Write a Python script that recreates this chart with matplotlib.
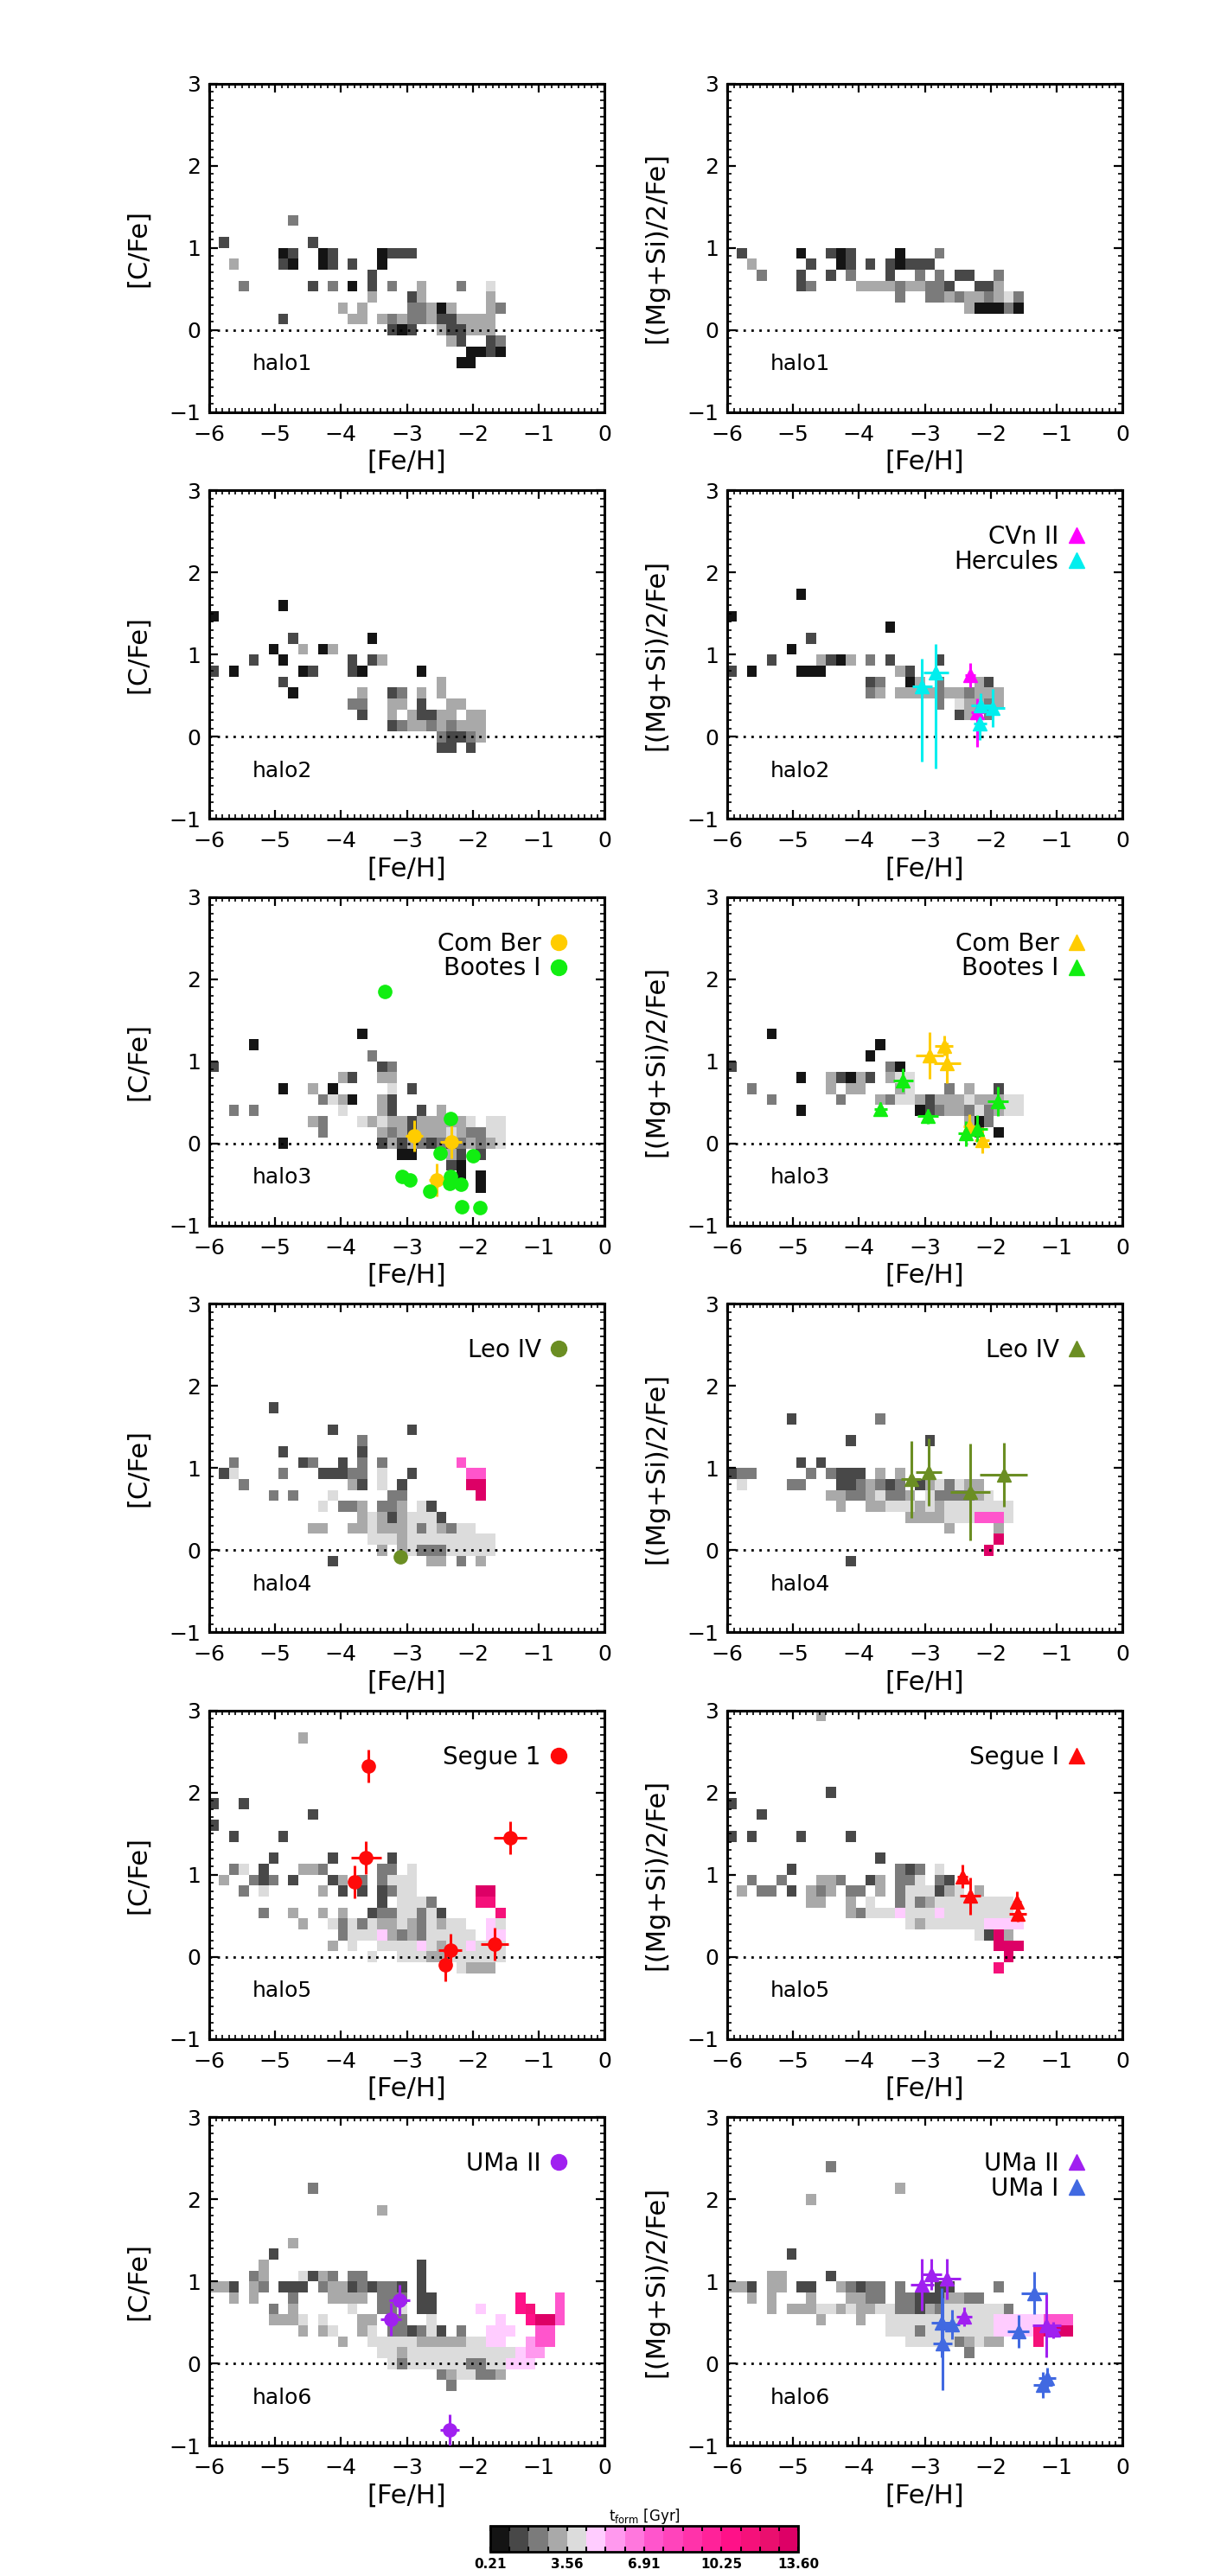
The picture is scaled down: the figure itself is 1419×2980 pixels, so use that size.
import numpy as np
import matplotlib
matplotlib.use("Agg")
import matplotlib.pyplot as plt
from matplotlib.colors import ListedColormap, BoundaryNorm
from matplotlib.lines import Line2D
from matplotlib.ticker import MultipleLocator
import matplotlib.cm as cm

plt.rcParams['font.family'] = ['DejaVu Sans']

# ---------------------------------------------------------------- grid / colour scale
FEH_EDGES = np.linspace(-6.0, 0.0, 41)      # 0.15 dex bins in [Fe/H]
RATIO_EDGES = np.linspace(-1.0, 3.0, 31)    # 0.133 dex bins in [X/Fe]
TFORM_EDGES = np.linspace(0.21, 13.60, 17)  # 16 t_form classes
TFORM_TICKS = [0.21, 3.56, 6.91, 10.25, 13.60]
LEVEL_COLORS = ['#141414', '#484848', '#7b7b7b', '#a9a9a9', '#dcdcdc', '#ffccff',
                '#ff99ee', '#ff77dd', '#ff55cc', '#ff44bb', '#ff33aa', '#ff2299',
                '#ff1188', '#f5117a', '#ea0f6e', '#dd0066']
CODES = '0123456789abcdef'

# Binned maps: row k (bin centre = k*4/30) -> (first [Fe/H] bin, t_form class per bin)
halo1_cfe = {10: (8, "2"), 8: (1, "1........1"), 7: (7, "01..01....0111"),
             6: (2, "3....10..01.1..0"), 5: (16, "1"),
             4: (3, "2......1.2.0.1.2..3...2..4"), 3: (16, "3...13......3"),
             2: (13, "3.3....22303...32"), 1: (7, "1......33.323223113333"),
             0: (18, "101..311333"), -1: (24, "31..12"), -2: (26, "0010"), -3: (25, "00")}
halo1_mgsi = {7: (1, "1.....0..101....0...2"), 6: (2, "3.....1..01.1.10111"),
              5: (3, "2...1..1.2...1..2.2.11..2"), 4: (7, "12....3333233221..113"),
              3: (17, "2..2232332342"), 2: (24, "300020")}
halo2_cfe = {12: (7, "0"), 11: (0, "0"), 9: (8, "1.......0"), 8: (6, "0..3.03"),
             7: (4, "1..0......1.13"), 6: (0, "1.0......01...10.....0"),
             5: (7, "1...............3"), 4: (8, "0......3..12.3.3"),
             3: (14, "22..33.1..33"), 2: (15, "1..3.31133.33"), 1: (18, "1233232333"),
             0: (23, "21123"), -1: (23, "11.1")}
halo2_mgsi = {13: (7, "0"), 11: (0, "0"), 10: (16, "0"), 9: (8, "1"), 8: (6, "0"),
              7: (4, "1....3103.2.1....1"), 6: (0, "1.0....000.......31"),
              5: (14, "12..03.2...31"), 4: (14, "23.33332332333"),
              3: (21, "2.43323"), 2: (23, "13.2")}
halo3_cfe = {10: (15, "0"), 9: (4, "0"), 8: (16, "2"), 7: (0, "1................12"),
             6: (13, "31..33"), 5: (7, "0..3.0.....4.1"), 4: (11, "2430..31"),
             3: (2, "2.2........4...31..1.3"), 2: (10, "32...434331333334.44"),
             1: (11, "2.....3231333432244"), 0: (7, "0.........1313212123234"),
             -1: (19, "00...31.1"), -2: (24, "10"), -3: (25, "0.0"), -4: (27, "0")}
halo3_mgsi = {10: (4, "0"), 9: (15, "0"), 8: (14, "0"), 7: (0, "1...............20"),
              6: (7, "0..31031.344"), 5: (2, "2.......3.33...34...2.3..1"),
              4: (4, "2......2...324431333433344"), 3: (7, "0...........01233242344"),
              2: (24, "302"), 1: (25, "1.0")}
halo4_cfe = {13: (6, "1"), 11: (12, "1.......1"), 10: (15, "2"), 9: (7, "1.......1"),
             8: (2, "2......12..1.2.2.......8"), 7: (1, "14....2...11122.4..1.....88"),
             6: (3, "2..........31.4.1......ff"), 5: (6, "2.2...4.....22.......f"),
             4: (11, "4.223.223.41"), 3: (15, "343134441"), 2: (10, "33..3343334243244"),
             1: (16, "4443444444444"), 0: (17, "3.3422244444"), -1: (12, "1.........33.2.3")}
halo4_mgsi = {12: (6, "1........2"), 10: (12, "1.......1"), 8: (7, "1.1"),
              7: (0, "122.....2.2111.3.3"), 6: (1, "4....22...1123212.1342433"),
              5: (10, "332234223.4222234"), 4: (11, "3..334443434444444"),
              3: (18, "33334448884"), 2: (22, "3....3"), 1: (27, "f"), 0: (26, "f"),
              -1: (12, "1")}
halo5_cfe = {20: (9, "3"), 14: (0, "1..1"), 13: (10, "1"), 12: (0, "1"), 11: (2, "1....1"),
             9: (6, "1.....1.....1"), 8: (2, "24.1...332.....22.4"),
             7: (1, "3..212.1...13.2.2444"), 6: (3, "2.4.....3.1.1.1244......ff"),
             5: (17, "1.4442....dd"), 4: (5, "2..3..3.3..12244241.....d"),
             3: (9, "3..42424334324344..54"), 2: (13, "24445323244444.55"),
             1: (12, "3.4..4444543445444"), 0: (16, "4..44433444444"), -1: (25, "4333")}
halo5_mgsi = {22: (9, "3"), 15: (10, "1"), 14: (0, "1"), 13: (3, "1"), 11: (0, "1.1....1....1"),
              9: (15, "1"), 8: (6, "1..........212.4"), 7: (2, "2..2...332..13.224.21"),
              6: (1, "3.22.1.323.22.3.2444134.3"), 5: (8, "33..3.4..242344444444"),
              4: (12, "32444544454444444"), 3: (18, "434444445555"), 2: (25, "41f3"),
              1: (27, "fff"), 0: (28, "f"), -1: (27, "d")}
halo6_cfe = {16: (10, "2"), 14: (17, "3"), 11: (8, "3"), 10: (6, "1"),
             9: (5, "3...............1"), 8: (4, "23...4132.22.....1"),
             7: (0, "331.32.111.233121221.1"), 6: (2, "3.3...2...3333.222.11........c...8"),
             5: (6, "2.3.....4..224.11....5...cd..8"), 4: (6, "3334.4...33.22..4......5..cff8"),
             3: (9, "3.34..34.221241.2..555..88"), 2: (13, "3..44444333334455..688"),
             1: (17, "44344444444444566"), 0: (18, "424444442244555"),
             -1: (23, "2344223"), -2: (24, "2")}
halo6_mgsi = {18: (10, "2"), 16: (17, "3"), 15: (8, "3"), 10: (6, "1"), 8: (4, "33....1"),
              7: (0, "331.33.11..32122.2...11....2"), 6: (2, "3.3...3...3322.221113322"),
              5: (4, "3.33344343344221324444442"), 4: (9, "3...3..4444444444455555888"),
              3: (16, "444244444445555dfff"), 2: (18, "4444423433...d"), 1: (24, "2")}

# ---------------------------------------------------------------- observed dwarf stars
cvn2_mgsi = dict(feh=[-2.31, -2.20], val=[0.75, 0.30], xerr=[0.08, 0.10],
                 yerr=[[0.15, 0.42], [0.15, 0.16]])
herc_mgsi = dict(feh=[-3.04, -2.83, -2.16, -1.97, -2.15], val=[0.61, 0.78, 0.16, 0.35, 0.38],
                 xerr=[0.15, 0.19, 0.10, 0.18, 0.15],
                 yerr=[[0.91, 1.17, 0.20, 0.23, 0.15], [0.34, 0.35, 0.20, 0.23, 0.15]])
comber_cfe = dict(feh=[-2.89, -2.33, -2.55], val=[0.09, 0.02, -0.44],
                  xerr=[0.13, 0.16, 0.12], yerr=[0.19, 0.20, 0.20])
bootes_cfe = dict(feh=[-3.34, -2.34, -2.50, -2.00, -3.07, -2.95, -2.34, -2.35, -2.18, -2.65, -2.17, -1.89],
                  val=[1.85, 0.30, -0.12, -0.15, -0.40, -0.44, -0.40, -0.49, -0.50, -0.58, -0.77, -0.78])
comber_mgsi = dict(feh=[-2.93, -2.71, -2.66, -2.32, -2.13], val=[1.07, 1.19, 0.98, 0.21, 0.04],
                   xerr=[0.21, 0.14, 0.20, 0.10, 0.11], yerr=[0.28, 0.12, 0.25, 0.15, 0.16])
bootes_mgsi = dict(feh=[-3.33, -3.67, -2.95, -1.89, -2.37, -2.20], val=[0.77, 0.42, 0.33, 0.51, 0.12, 0.18],
                   xerr=[0.15, 0.10, 0.16, 0.16, 0.12, 0.15], yerr=[0.14, 0.08, 0.09, 0.18, 0.15, 0.16])
leo4_cfe = dict(feh=[-3.10], val=[-0.08])
leo4_mgsi = dict(feh=[-3.21, -2.94, -2.31, -1.80], val=[0.86, 0.95, 0.71, 0.92],
                 xerr=[0.15, 0.20, 0.30, 0.36], yerr=[0.47, 0.41, 0.59, 0.39])
segue1_cfe = dict(feh=[-3.58, -3.62, -3.80, -1.43, -1.67, -2.34, -2.42],
                  val=[2.32, 1.21, 0.91, 1.45, 0.16, 0.08, -0.10],
                  xerr=[0.03, 0.23, 0.03, 0.25, 0.21, 0.18, 0.03], yerr=[0.20] * 7)
segue1_mgsi = dict(feh=[-2.43, -2.31, -1.60, -1.59], val=[0.98, 0.74, 0.67, 0.52],
                   xerr=[0.08, 0.16, 0.06, 0.13], yerr=[0.14, 0.23, 0.13, 0.09])
uma2_cfe = dict(feh=[-3.11, -3.24, -2.35], val=[0.77, 0.54, -0.81],
                xerr=[0.16, 0.16, 0.15], yerr=[0.19, 0.20, 0.19])
uma2_mgsi = dict(feh=[-3.04, -2.90, -2.66, -2.40, -1.15, -1.05], val=[0.96, 1.09, 1.03, 0.57, 0.47, 0.41],
                 xerr=[0.18, 0.15, 0.21, 0.12, 0.22, 0.11], yerr=[0.32, 0.19, 0.25, 0.12, 0.39, 0.10])
uma1_mgsi = dict(feh=[-2.75, -2.73, -2.58, -1.34, -1.58, -1.21, -1.14],
                 val=[0.50, 0.24, 0.48, 0.86, 0.39, -0.26, -0.18],
                 xerr=[0.15, 0.14, 0.11, 0.20, 0.16, 0.14, 0.13],
                 yerr=[0.42, 0.56, 0.18, 0.26, 0.20, 0.16, 0.13])

COL = dict(comber='#ffcc00', bootes='#11ee11', cvn='#ff00ff', herc='#00eeee',
           leo='#6b8e23', segue='#ff0a0a', uma2='#a020f0', uma1='#4169e1')

HALOS = ['halo1', 'halo2', 'halo3', 'halo4', 'halo5', 'halo6']
MAPS_CFE = [halo1_cfe, halo2_cfe, halo3_cfe, halo4_cfe, halo5_cfe, halo6_cfe]
MAPS_MGSI = [halo1_mgsi, halo2_mgsi, halo3_mgsi, halo4_mgsi, halo5_mgsi, halo6_mgsi]
OBS_CFE = [[], [],
           [('Com Ber', comber_cfe, 'o', COL['comber']), ('Bootes I', bootes_cfe, 'o', COL['bootes'])],
           [('Leo IV', leo4_cfe, 'o', COL['leo'])],
           [('Segue 1', segue1_cfe, 'o', COL['segue'])],
           [('UMa II', uma2_cfe, 'o', COL['uma2'])]]
OBS_MGSI = [[],
            [('CVn II', cvn2_mgsi, '^', COL['cvn']), ('Hercules', herc_mgsi, '^', COL['herc'])],
            [('Com Ber', comber_mgsi, '^', COL['comber']), ('Bootes I', bootes_mgsi, '^', COL['bootes'])],
            [('Leo IV', leo4_mgsi, '^', COL['leo'])],
            [('Segue I', segue1_mgsi, '^', COL['segue'])],
            [('UMa II', uma2_mgsi, '^', COL['uma2']), ('UMa I', uma1_mgsi, '^', COL['uma1'])]]

CMAP = ListedColormap(LEVEL_COLORS)
NORM = BoundaryNorm(TFORM_EDGES, CMAP.N)
CLASS_T = 0.5 * (TFORM_EDGES[:-1] + TFORM_EDGES[1:])


def build_map(rows):
    z = np.full((len(RATIO_EDGES) - 1, len(FEH_EDGES) - 1), np.nan)
    for k, (start, codes) in rows.items():
        j = k + 7
        for n, ch in enumerate(codes):
            if ch != '.':
                z[j, start + n] = CLASS_T[CODES.index(ch)]
    return z


def draw_panel(ax, rows, ylabel, halo, obs):
    z = build_map(rows)
    ax.pcolormesh(FEH_EDGES, RATIO_EDGES, np.ma.masked_invalid(z), cmap=CMAP, norm=NORM,
                  shading='flat', edgecolors='none', antialiased=False, zorder=1)
    ax.axhline(0, color='k', lw=2.0, ls=(0, (1, 2.3)), zorder=2)
    handles, labels = [], []
    for name, d, mk, c in obs:
        kw = dict(fmt=mk, color=c, mec=c, ms=11, elinewidth=2.2, capsize=0, zorder=4)
        ax.errorbar(d['feh'], d['val'], xerr=d.get('xerr'), yerr=d.get('yerr'), **kw)
        handles.append(Line2D([], [], ls='none', marker=mk, color=c, mec=c, ms=13))
        labels.append(name)
    if handles:
        ax.legend(handles, labels, loc='upper right', bbox_to_anchor=(0.903, 0.895),
                  frameon=False, markerfirst=False, handlelength=0.6, handletextpad=0.45,
                  borderpad=0, borderaxespad=0, labelspacing=0.03, fontsize=20)
    ax.text(0.108, 0.1275, halo, transform=ax.transAxes, fontsize=18, ha='left', va='baseline')
    ax.set_xlim(-6, 0)
    ax.set_ylim(-1, 3)
    ax.xaxis.set_major_locator(MultipleLocator(1))
    ax.xaxis.set_minor_locator(MultipleLocator(0.1))
    ax.yaxis.set_major_locator(MultipleLocator(1))
    ax.yaxis.set_minor_locator(MultipleLocator(0.1))
    ax.tick_params(which='both', direction='in', top=True, right=True, labelsize=18)
    ax.tick_params(which='major', length=7, width=1.6)
    ax.tick_params(which='minor', length=3.5, width=1.2)
    ax.tick_params(axis='x', pad=10)
    ax.tick_params(axis='y', pad=7)
    for s in ax.spines.values():
        s.set_linewidth(2.2)
    ax.set_xlabel('[Fe/H]', fontsize=22, labelpad=4)
    ax.set_ylabel(ylabel, fontsize=22)
    ax.yaxis.set_label_coords(-0.148, 0.5)


fig = plt.figure(figsize=(14.19, 29.80), dpi=100)
LEFTS = [242.0 / 1419, 841.0 / 1419]
W = 457.0 / 1419
H = 380.0 / 2980
for r in range(6):
    top = 96.7 + 470.5 * r
    bottom = 1 - (top + 380.0) / 2980
    axl = fig.add_axes([LEFTS[0], bottom, W, H])
    draw_panel(axl, MAPS_CFE[r], '[C/Fe]', HALOS[r], OBS_CFE[r])
    axr = fig.add_axes([LEFTS[1], bottom, W, H])
    draw_panel(axr, MAPS_MGSI[r], '[(Mg+Si)/2/Fe]', HALOS[r], OBS_MGSI[r])

cax = fig.add_axes([566.7 / 1419, 1 - 2951.7 / 2980, 356.7 / 1419, 29.4 / 2980])
sm = cm.ScalarMappable(norm=NORM, cmap=CMAP)
cb = fig.colorbar(sm, cax=cax, orientation='horizontal', ticks=TFORM_TICKS)
cb.ax.set_xticklabels([f"{t:.2f}" for t in TFORM_TICKS], fontsize=11, fontweight='bold')
cb.outline.set_linewidth(2)
cax.xaxis.set_ticks(TFORM_EDGES, minor=True)
cax.tick_params(which='both', direction='in', top=True, bottom=True, length=4, width=1.5, pad=5)
cax.set_title(r't$_{\rm form}$ [Gyr]', fontsize=12, pad=3)

fig.savefig('out.png', dpi=100)
